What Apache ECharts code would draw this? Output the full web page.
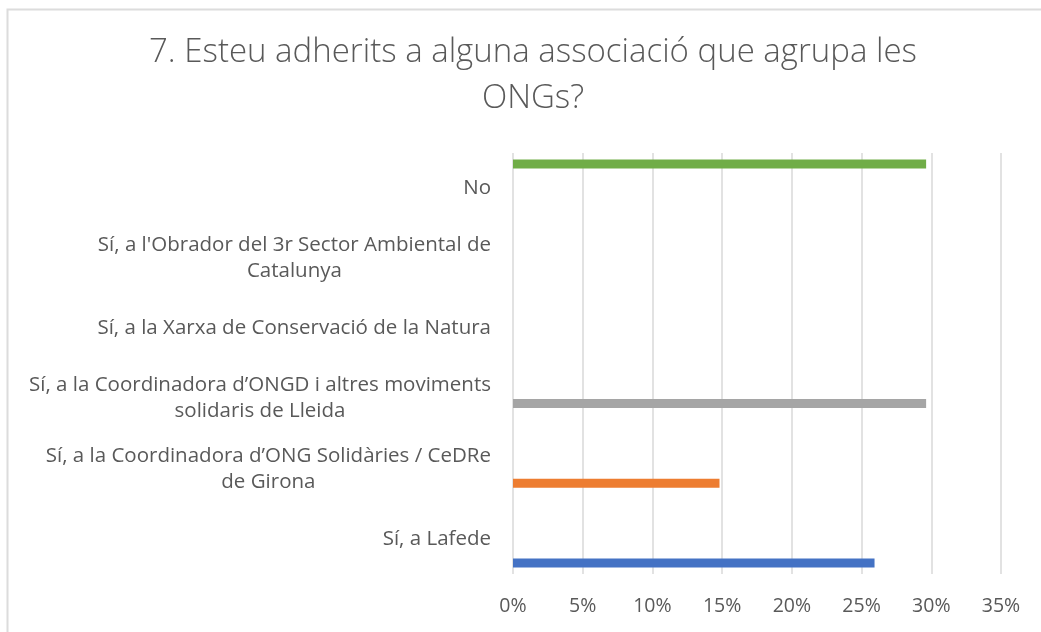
<!DOCTYPE html>
<html>
<head>
<meta charset="utf-8">
<script src="https://cdn.jsdelivr.net/npm/echarts@6/dist/echarts.min.js"></script>
<style>
  html, body { margin: 0; padding: 0; background: #ffffff; }
  #chart { width: 1041px; height: 632px; }
</style>
</head>
<body>
<div id="chart"></div>
<script>
// Categories, bottom to top (as in the picture)
const categories = [
  "Sí, a Lafede",
  "Sí, a la Coordinadora d’ONG Solidàries / CeDRe\nde Girona",
  "Sí, a la Coordinadora d’ONGD i altres moviments\nsolidaris de Lleida",
  "Sí, a la Xarxa de Conservació de la Natura",
  "Sí, a l'Obrador del 3r Sector Ambiental de\nCatalunya",
  "No"
];
// Share of answers per category
const values = [0.2593, 0.1481, 0.2963, 0, 0, 0.2963];
const colors = ["#4472C4", "#ED7D31", "#A5A5A5", "#FFC000", "#5B9BD5", "#70AD47"];
const xTicks = ["0%", "5%", "10%", "15%", "20%", "25%", "30%", "35%"];

const FONT = "'Open Sans', 'Noto Sans', sans-serif";
const TEXT = "#595959";

// One series per answer (Excel-style: each category has its own series slot).
// ECharts puts the first series in the top slot, so build them top-down.
const series = categories.map((c, i) => ({
  type: "bar",
  name: c,
  barWidth: 9,
  barGap: "7%",
  itemStyle: { color: colors[i] },
  data: categories.map((_, j) => (j === i ? values[i] : "-"))
})).reverse();

const chart = echarts.init(document.getElementById("chart"), null, { renderer: "canvas" });
chart.setOption({
  animation: false,
  backgroundColor: "#ffffff",
  graphic: [{
    type: "rect",
    shape: { x: 7.5, y: 9.5, width: 1100, height: 700 },
    style: { fill: "none", stroke: "#dcdcdc", lineWidth: 2 },
    silent: true
  }],
  title: {
    text: "7. Esteu adherits a alguna associació que agrupa les\nONGs?",
    left: 528,
    top: 25,
    textAlign: "center",
    textStyle: {
      fontFamily: FONT,
      fontSize: 33,
      fontWeight: 300,
      color: TEXT,
      lineHeight: 46
    }
  },
  grid: { left: 513, right: 40, top: 153, bottom: 58, containLabel: false },
  xAxis: {
    type: "value",
    min: 0,
    max: 0.35,
    interval: 0.05,
    axisLine: { show: false },
    axisTick: { show: false },
    splitLine: { show: true, lineStyle: { color: "#d9d9d9", width: 1.5 } },
    axisLabel: {
      margin: 22,
      fontFamily: FONT,
      fontSize: 19.5,
      color: TEXT,
      formatter: (v) => xTicks[Math.round(v / 0.05)]
    }
  },
  yAxis: {
    type: "category",
    data: categories,
    axisLine: { show: false },
    axisTick: { show: false },
    splitLine: { show: false },
    axisLabel: {
      margin: 22,
      align: "right",
      formatter: (v) => v.split("\n").map(l => "{c|" + l + "}").join("\n"),
      rich: {
        c: { align: "center", fontFamily: FONT, fontSize: 20.5, color: TEXT, lineHeight: 26 }
      }
    }
  },
  series: series
});
</script>
</body>
</html>
